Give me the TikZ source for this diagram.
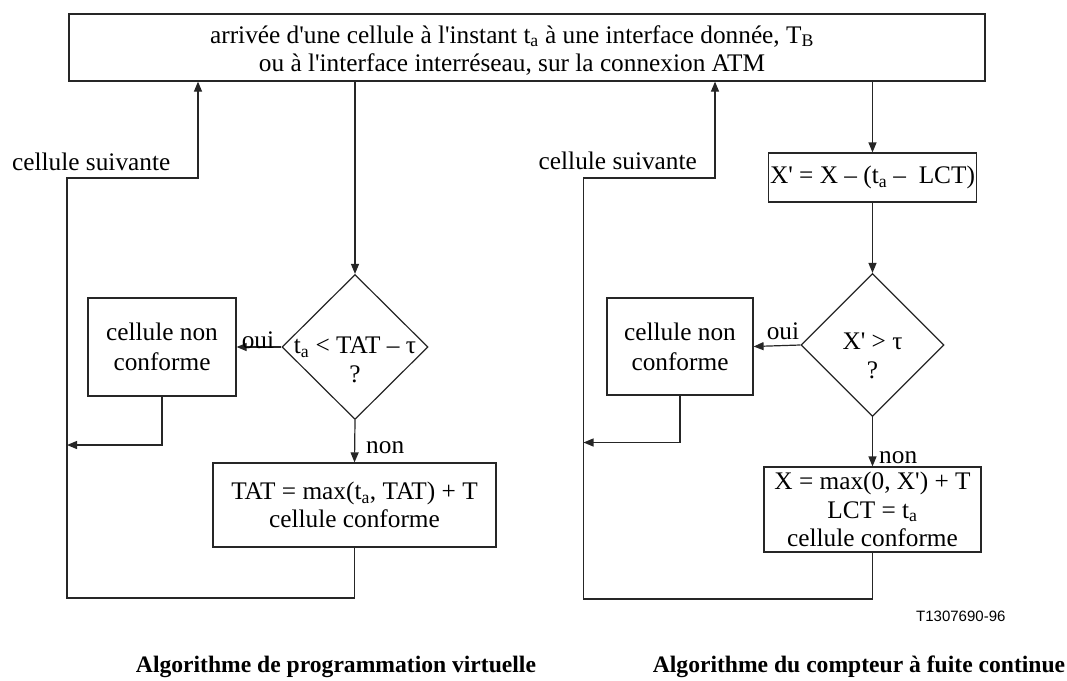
\documentclass[tikz,border=0pt]{standalone}
\usepackage{fontspec}
\newfontfamily\serif{Liberation Serif}
\newfontfamily\sans{Liberation Sans}
\usetikzlibrary{arrows.meta,shapes.geometric}
\newcommand\sbs[1]{\textsubscript{#1}}
\begin{document}
\begin{tikzpicture}[x=1pt,y=-1pt,
  every node/.style={font=\serif\fontsize{25.3}{28.5}\selectfont},
  line/.style={draw=black!85, line width=1.2pt},
  arr/.style={line, -{Triangle[length=10pt,width=8pt]}},
  box/.style={draw=black!85, line width=1.2pt, inner sep=0pt, align=center},
  twoline/.style={font=\serif\fontsize{25.3}{30}\selectfont},
  dia/.style={diamond, draw=black!85, line width=1.2pt, inner sep=0pt},
  lbl/.style={inner sep=0pt},
  title/.style={inner sep=0pt, anchor=base, font=\serif\bfseries\fontsize{23.6}{28}\selectfont},
]
\useasboundingbox (0,0) rectangle (1067,680);

% common entry box
\node[box, minimum width=916pt, minimum height=67pt] (top) at (527,47.5) {};
\node[lbl, align=center] (toptxt) at (512,50.5)
  {arrivée d'une cellule à l'instant t\sbs{a} à une interface donnée, T\sbs{B}\\
   ou à l'interface interréseau, sur la connexion ATM};

% ---- virtual scheduling algorithm ----
\node[dia, minimum width=146pt, minimum height=145pt] (d1) at (355,347) {};
\node[lbl, align=center] (q1) at (355,360) {t\sbs{a} < TAT – τ\\?};
\node[box, twoline, minimum width=148pt, minimum height=98pt] (n1) at (162,347)
  {cellule non\\conforme};
\node[box, minimum width=283pt, minimum height=84pt] (b1) at (354.5,505)
  {TAT = max(t\sbs{a}, TAT) + T\\cellule conforme};

\coordinate (r1) at (67,445);
\coordinate (c1) at (67,598);
\coordinate (c2) at (67,178);
\coordinate (c3) at (198,178);

\draw[arr] (d1.north |- top.south) -- (d1.north);
\draw[arr] (d1.west) -- (n1.east);
\draw[arr] (n1.south) |- (r1);
\draw[arr] (d1.south) -- (b1.north);
\draw[arr] (b1.south) |- (c1) -- (c2) -- (c3) -- (c3 |- top.south);

\node[lbl, anchor=base west] (s1) at (12,170) {cellule suivante};
\node[lbl, anchor=base] (o1) at (258,348) {oui};
\node[lbl, anchor=base west] (m1) at (366,453) {non};

% ---- continuous-state leaky bucket algorithm ----
\node[box, minimum width=208pt, minimum height=49pt] (x2) at (872.5,177.5)
  {X' = X – (t\sbs{a} –~ LCT)};
\node[dia, minimum width=143pt, minimum height=143pt] (d2) at (872.5,345) {};
\node[lbl, align=center] (q2) at (872.5,356) {X' > τ\\?};
\node[box, twoline, minimum width=146pt, minimum height=97pt] (n2) at (680,346.5)
  {cellule non\\conforme};
\node[box, minimum width=217pt, minimum height=85pt] (b2) at (872.5,509.5)
  {X = max(0, X') + T\\LCT = t\sbs{a}\\cellule conforme};

\coordinate (r2) at (583.5,442.5);
\coordinate (e1) at (583.5,599);
\coordinate (e2) at (583.5,178);
\coordinate (e3) at (715,178);

\draw[arr] (x2.north |- top.south) -- (x2.north);
\draw[arr] (x2.south) -- (d2.north);
\draw[arr] (d2.west) -- (n2.east);
\draw[arr] (n2.south) |- (r2);
\draw[arr] (d2.south) -- (b2.north);
\draw[arr] (b2.south) |- (e1) -- (e2) -- (e3) -- (e3 |- top.south);

\node[lbl, anchor=base east] (s2) at (697,169) {cellule suivante};
\node[lbl, anchor=base] (o2) at (783,339) {oui};
\node[lbl, anchor=base west] (m2) at (879,463) {non};

% figure number and captions
\node[lbl, anchor=base west, font=\sans\fontsize{15}{18}\selectfont] (fig) at (916,621) {T1307690-96};
\node[title] (t1) at (336,672) {Algorithme de programmation virtuelle};
\node[title] (t2) at (859,672) {Algorithme du compteur à fuite continue};
\end{tikzpicture}
\end{document}
